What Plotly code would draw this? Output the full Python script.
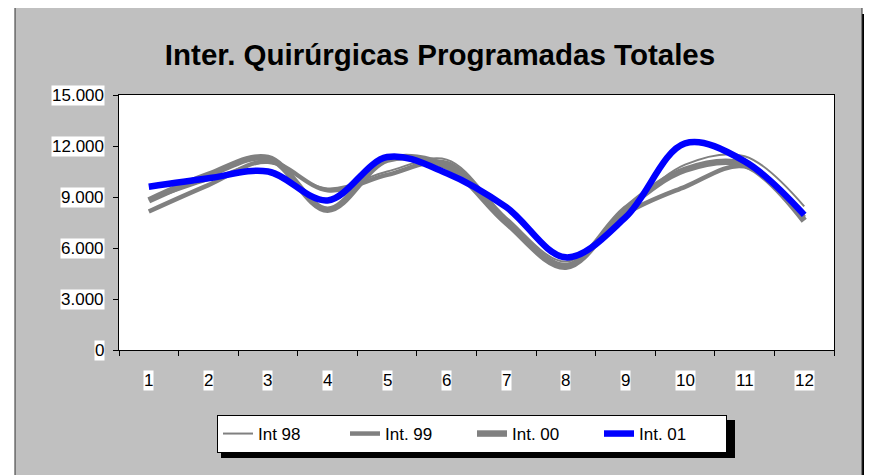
import plotly.graph_objs as go

## datos
meses = list(range(1, 13))
int_98 = [8800, 10000, 11000, 9500, 10500, 11200, 7800, 5200, 8200, 10900, 11400, 8450]
int_99 = [8150, 9700, 11100, 9400, 10300, 11000, 7600, 5000, 8000, 9600, 10800, 7800]
int_00 = [8800, 10300, 11300, 8250, 11200, 10800, 7500, 4900, 8300, 10600, 10900, 7600]
int_01 = [9600, 10100, 10500, 8800, 11350, 10400, 8400, 5450, 7800, 12150, 11100, 7950]
yticks = [0, 3000, 6000, 9000, 12000, 15000]
ytick_text = ["0", "3.000", "6.000", "9.000", "12.000", "15.000"]

FONT = "Arial, Liberation Sans, sans-serif"
OFF = 8  # margen de la pagina
W, H = 864, 467
L, R, T, B = 111, 38, 87, 125
PW, PH = W - L - R, H - T - B


# coordenadas de pantalla -> paper
def px(x):
    return (x - OFF - L) / PW


def py(y):
    return (H - B - (y - OFF)) / PH


series = [("Int 98", int_98, 2), ("Int. 99", int_99, 4.5),
          ("Int. 00", int_00, 6.5), ("Int. 01", int_01, 6.5)]
fig = go.Figure()
for nombre, vals, ancho in series:
    color = "#0000ff" if nombre == "Int. 01" else "#808080"
    fig.add_trace(go.Scatter(x=meses, y=vals, name=nombre, mode="lines",
                             line=dict(color=color, width=ancho, shape="spline", smoothing=1.0)))

shapes = [
    # sombra y fondo del grafico
    dict(type="rect", xref="paper", yref="paper", x0=px(24), x1=px(890), y0=py(14), y1=py(490),
         fillcolor="black", line=dict(width=0), layer="below"),
    dict(type="rect", xref="paper", yref="paper", x0=px(15), x1=px(862), y0=py(6), y1=py(490),
         fillcolor="#c0c0c0", line=dict(color="#303030", width=1), layer="below"),
    dict(type="rect", xref="paper", yref="paper", x0=0, x1=1, y0=0, y1=1,
         fillcolor="white", line=dict(width=0), layer="below"),
    # sombra de la leyenda
    dict(type="rect", xref="paper", yref="paper", x0=px(221), x1=px(735), y0=py(458), y1=py(420),
         fillcolor="black", line=dict(width=0), layer="below"),
]

annots = []
for v, t in zip(yticks, ytick_text):
    annots.append(dict(x=px(105), xref="paper", y=v, yref="y", text=t, showarrow=False,
                       xanchor="right", yanchor="middle", bgcolor="white", borderpad=0,
                       font=dict(family=FONT, size=17, color="black")))
for m in meses:
    annots.append(dict(x=m, xref="x", y=py(370), yref="paper", text=str(m), showarrow=False,
                       xanchor="center", yanchor="top", bgcolor="white", borderpad=0,
                       font=dict(family=FONT, size=17, color="black")))

fig.update_layout(
    width=W, height=H, margin=dict(l=L, r=R, t=T, b=B),
    paper_bgcolor="white", plot_bgcolor="white",
    title=dict(text="<b>Inter. Quirúrgicas Programadas Totales</b>", x=(440 - OFF) / W, xref="container",
               xanchor="center", y=1 - (55 - OFF) / H, yref="container", yanchor="middle",
               font=dict(family=FONT, size=29.5, color="black")),
    xaxis=dict(range=[0.5, 12.5], tickvals=meses, ticks="", showticklabels=False,
               minor=dict(tick0=0.5, dtick=1, ticks="outside", ticklen=5, tickcolor="black", showgrid=False),
               showgrid=False, showline=True, linecolor="black", linewidth=1,
               mirror=True, zeroline=False),
    yaxis=dict(range=[0, 15000], tickvals=yticks, ticks="outside", ticklen=5, tickcolor="black",
               showticklabels=False, showgrid=False, showline=True, linecolor="black", linewidth=1,
               mirror=True, zeroline=False),
    legend=dict(orientation="h", x=(472 - OFF) / W, xref="container", xanchor="center",
                y=1 - (434 - OFF) / H, yref="container", yanchor="middle", entrywidth=82,
                bgcolor="white", bordercolor="black", borderwidth=1,
                font=dict(family=FONT, size=17, color="black"), traceorder="normal"),
    shapes=shapes, annotations=annots,
)

fig.write_html("out.html")
